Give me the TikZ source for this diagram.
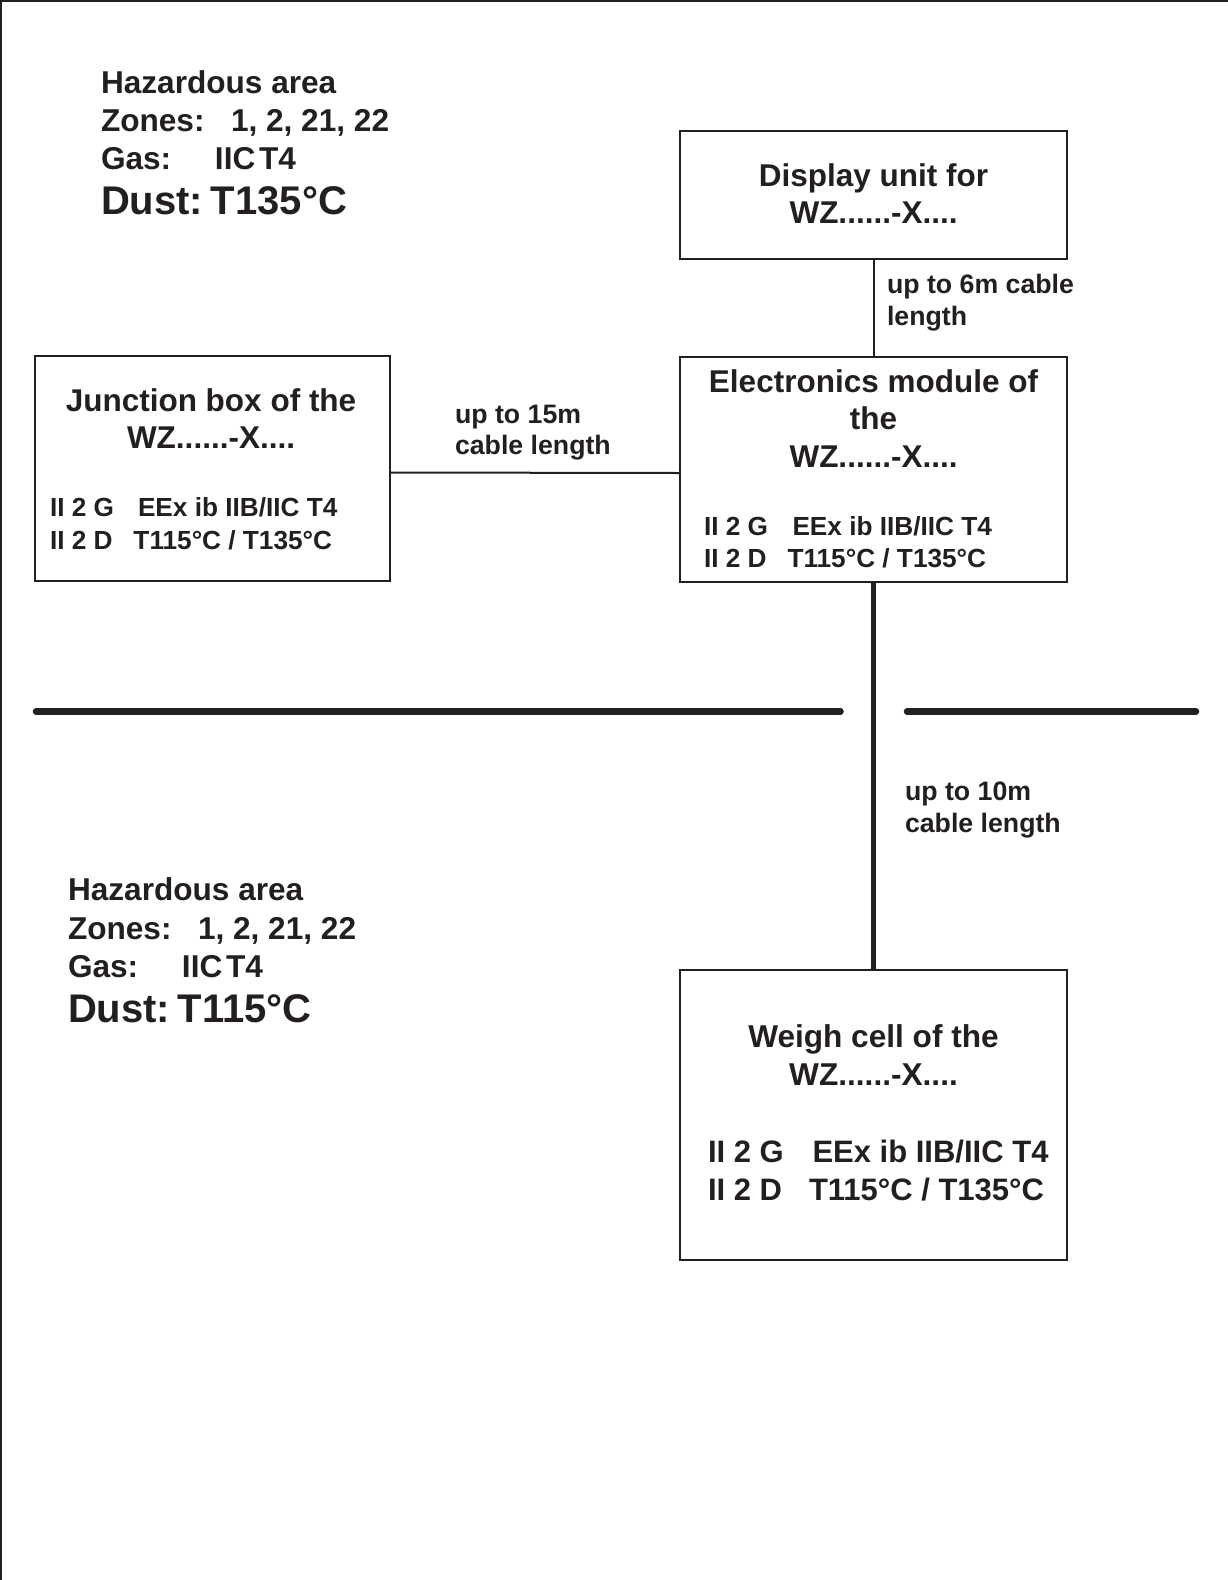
\documentclass[tikz,border=0pt]{standalone}
\usepackage{fontspec}
\setmainfont{Liberation Sans}
\definecolor{ink}{RGB}{35,31,32}
\newcommand\myfs[1]{\fontsize{#1}{#1}\selectfont}
\begin{document}
\begin{tikzpicture}[x=1pt,y=-1pt,
  box/.style={draw=ink,line width=2pt,inner sep=0pt,outer sep=0pt},
  lbl/.style={inner sep=0pt,outer sep=0pt,text=ink,font=\bfseries},
  wire/.style={draw=ink,line width=2pt},
  heavywire/.style={draw=ink,line width=4.5pt},
  divider/.style={draw=ink,line width=6.5pt,line cap=round}]
\useasboundingbox (0,0) rectangle (1228,1580);
% frame (left and top only)
\draw[ink,line width=2pt] (1,1580) -- (1,1) -- (1228,1);

% boxes
\node[box,minimum width=387pt,minimum height=128pt] (disp) at (873.5,195) {};
\node[box,minimum width=387pt,minimum height=225pt] (elec) at (873.5,469) {};
\node[box,minimum width=355pt,minimum height=225pt] (junc) at (212.5,468.5) {};
\node[box,minimum width=387pt,minimum height=290pt] (weigh) at (873.5,1115) {};

% connectors
\draw[wire] ([yshift=-4pt]junc.east) -- ([yshift=-4pt]elec.west);
\draw[wire] (disp.south) -- (elec.north);
\draw[heavywire] (elec.south) -- (weigh.north);

% area dividers
\coordinate (dl1) at (36,711.5);
\coordinate (dl2) at (840.5,711.5);
\coordinate (dr1) at (907,711.5);
\coordinate (dr2) at (1196,711.5);
\draw[divider] (dl1) -- (dl2);
\draw[divider] (dr1) -- (dr2);

% top-left area text
\node[lbl,anchor=base west,font=\bfseries\myfs{31.6}] (ta1) at (101,93) {Hazardous area};
\node[lbl,anchor=base west,font=\bfseries\myfs{31.6}] (ta2) at (101,131.5) {\makebox[130pt][l]{Zones:}1, 2, 21, 22};
\node[lbl,anchor=base west,font=\bfseries\myfs{31.6}] (ta3) at (101,169.5) {\makebox[114pt][l]{Gas:}IIC\hspace{0.12em}T4};
\node[lbl,anchor=base west,font=\bfseries\myfs{40}] (ta4) at (101,214) {\makebox[110pt][l]{Dust:}T135°C};

% bottom-left area text
\node[lbl,anchor=base west,font=\bfseries\myfs{31.6}] (ba1) at (68,900) {Hazardous area};
\node[lbl,anchor=base west,font=\bfseries\myfs{31.6}] (ba2) at (68,939) {\makebox[130pt][l]{Zones:}1, 2, 21, 22};
\node[lbl,anchor=base west,font=\bfseries\myfs{31.6}] (ba3) at (68,977) {\makebox[114pt][l]{Gas:}IIC\hspace{0.12em}T4};
\node[lbl,anchor=base west,font=\bfseries\myfs{40}] (ba4) at (68,1022) {\makebox[110pt][l]{Dust:}T115°C};

% display unit
\node[lbl,anchor=base,font=\bfseries\myfs{31.5}] (d1) at (873.5,186) {Display unit for};
\node[lbl,anchor=base,font=\bfseries\myfs{31.5}] (d2) at (873.5,223.5) {WZ......-X....};

% cable labels
\node[lbl,anchor=base west,font=\bfseries\myfs{26.7}] (c6a) at (887,293.5) {up to 6m cable};
\node[lbl,anchor=base west,font=\bfseries\myfs{26.7}] (c6b) at (887,325) {length};
\node[lbl,anchor=base west,font=\bfseries\myfs{26.7}] (c15a) at (455,423.5) {up to 15m};
\node[lbl,anchor=base west,font=\bfseries\myfs{26.7}] (c15b) at (455,454.5) {cable length};
\node[lbl,anchor=base west,font=\bfseries\myfs{26.7}] (c10a) at (905,800) {up to 10m};
\node[lbl,anchor=base west,font=\bfseries\myfs{26.7}] (c10b) at (905,832.5) {cable length};

% junction box
\node[lbl,anchor=base,font=\bfseries\myfs{31.5}] (j1) at (211,411) {Junction box of the};
\node[lbl,anchor=base,font=\bfseries\myfs{31.5}] (j2) at (211,448.5) {WZ......-X....};
\node[lbl,anchor=base west,font=\bfseries\myfs{26.2}] (j3) at (50,516.5) {\makebox[88pt][l]{II 2 G}EEx ib IIB/IIC T4};
\node[lbl,anchor=base west,font=\bfseries\myfs{26.2}] (j4) at (50,549) {\makebox[83.5pt][l]{II 2 D}T115°C / T135°C};

% electronics module
\node[lbl,anchor=base,font=\bfseries\myfs{31.5}] (e1) at (873.5,392) {Electronics module of};
\node[lbl,anchor=base,font=\bfseries\myfs{31.5}] (e2) at (873.5,429.5) {the};
\node[lbl,anchor=base,font=\bfseries\myfs{31.5}] (e3) at (873.5,467.5) {WZ......-X....};
\node[lbl,anchor=base west,font=\bfseries\myfs{26.2}] (e4) at (704,535) {\makebox[88.5pt][l]{II 2 G}EEx ib IIB/IIC T4};
\node[lbl,anchor=base west,font=\bfseries\myfs{26.2}] (e5) at (704,567.5) {\makebox[83.5pt][l]{II 2 D}T115°C / T135°C};

% weigh cell
\node[lbl,anchor=base,font=\bfseries\myfs{31.6}] (w1) at (873.5,1047.5) {Weigh cell of the};
\node[lbl,anchor=base,font=\bfseries\myfs{31.6}] (w2) at (873.5,1085) {WZ......-X....};
\node[lbl,anchor=base west,font=\bfseries\myfs{31}] (w3) at (708,1162) {\makebox[104.5pt][l]{II 2 G}EEx ib IIB/IIC T4};
\node[lbl,anchor=base west,font=\bfseries\myfs{31}] (w4) at (708,1200) {\makebox[101pt][l]{II 2 D}T115°C / T135°C};
\end{tikzpicture}
\end{document}
